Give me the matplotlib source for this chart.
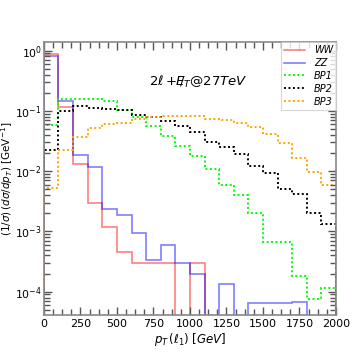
import numpy as np
import matplotlib
matplotlib.use('Agg')
import matplotlib.pyplot as plt
from matplotlib.ticker import AutoMinorLocator

# bin edges, 100 GeV wide
edges = np.arange(0, 2100, 100)

# normalised distributions
ww = [0.87, 0.116, 0.0131, 0.0030, 0.00117, 0.00045, 0.00030, 0.00030, 0.00030, 0,
      0.00030, 0, 0, 0, 0, 0, 0, 0, 0, 0]
zz = [0.82, 0.144, 0.0183, 0.0115, 0.00234, 0.00186, 0.00093, 0.00034, 0.00060, 0.00030,
      0.00020, 0, 0.000133, 0, 6.6e-5, 6.6e-5, 6.6e-5, 6.8e-5, 0, 0]
bp1 = [0.059, 0.157, 0.160, 0.155, 0.147, 0.103, 0.080, 0.056, 0.038, 0.026,
       0.018, 0.011, 0.0060, 0.0040, 0.0020, 0.00066, 0.00066, 0.000182, 7.5e-5, 0.000114]
bp2 = [0.022, 0.099, 0.119, 0.112, 0.107, 0.102, 0.084, 0.078, 0.068, 0.056,
       0.045, 0.031, 0.0255, 0.019, 0.012, 0.0092, 0.0050, 0.0041, 0.0020, 0.00132]
bp3 = [0.0052, 0.022, 0.037, 0.052, 0.060, 0.063, 0.072, 0.078, 0.082, 0.082,
       0.082, 0.074, 0.070, 0.062, 0.053, 0.041, 0.0296, 0.0163, 0.0098, 0.0060]

labels = ['WW', 'ZZ', 'BP1', 'BP2', 'BP3']

fig = plt.figure(figsize=(3.54, 3.54), dpi=100)
ax = fig.add_axes([0.124, 0.110, 0.825, 0.771])

floor = 1e-9
def draw(vals, **kw):
    v = np.clip(np.array(vals, dtype=float), floor, None)
    ax.stairs(v, edges, baseline=floor, fill=False, **kw)

draw(ww, color='red', alpha=0.5, lw=1.2, label=labels[0])
draw(zz, color='blue', alpha=0.5, lw=1.2, label=labels[1])
draw(bp1, color='lime', ls=(0, (1, 1.3)), lw=1.4, label=labels[2])
draw(bp2, color='black', ls=(0, (1, 1.3)), lw=1.4, label=labels[3])
draw(bp3, color='orange', ls=(0, (1, 1.3)), lw=1.4, label=labels[4])

ax.set_yscale('log')
ax.set_xlim(0, 2000)
ax.set_ylim(4.1e-5, 1.38)
ax.set_xticks([0, 250, 500, 750, 1000, 1250, 1500, 1750, 2000])
ax.xaxis.set_minor_locator(AutoMinorLocator(4))

ax.tick_params(which='both', direction='in', top=True, right=True,
               color='#555555', labelsize=8, pad=3)
ax.tick_params(axis='y', labelsize=7.8, pad=1.5)
ax.tick_params(which='major', length=6, width=1)
ax.tick_params(which='minor', length=4, width=1)
for s in ax.spines.values():
    s.set_color('#888888')
    s.set_linewidth(1.2)

ax.set_xlabel(r'$p_T\,(\ell_1)\;[GeV]$', fontsize=8.5, labelpad=1)
ax.set_ylabel(r'$(1/\sigma)\,(d\sigma/dp_T)$ [GeV$^{-1}$]', fontsize=7.5)
ax.yaxis.set_label_coords(-0.1, 0.5)

ax.text(0.36, 0.855, r'$2\ell+/\!\!\!\!E_T@27TeV$', transform=ax.transAxes,
        fontsize=9.5, va='center', ha='left')

leg = ax.legend(loc='upper right', frameon=True, fancybox=False,
                borderpad=0.3, labelspacing=0.3, handlelength=2.2, handletextpad=0.9,
                borderaxespad=0.0, prop={'style': 'italic', 'size': 7})
leg.get_frame().set_edgecolor('#cccccc')
leg.get_frame().set_linewidth(0.8)

fig.savefig('out.png', dpi=100)
